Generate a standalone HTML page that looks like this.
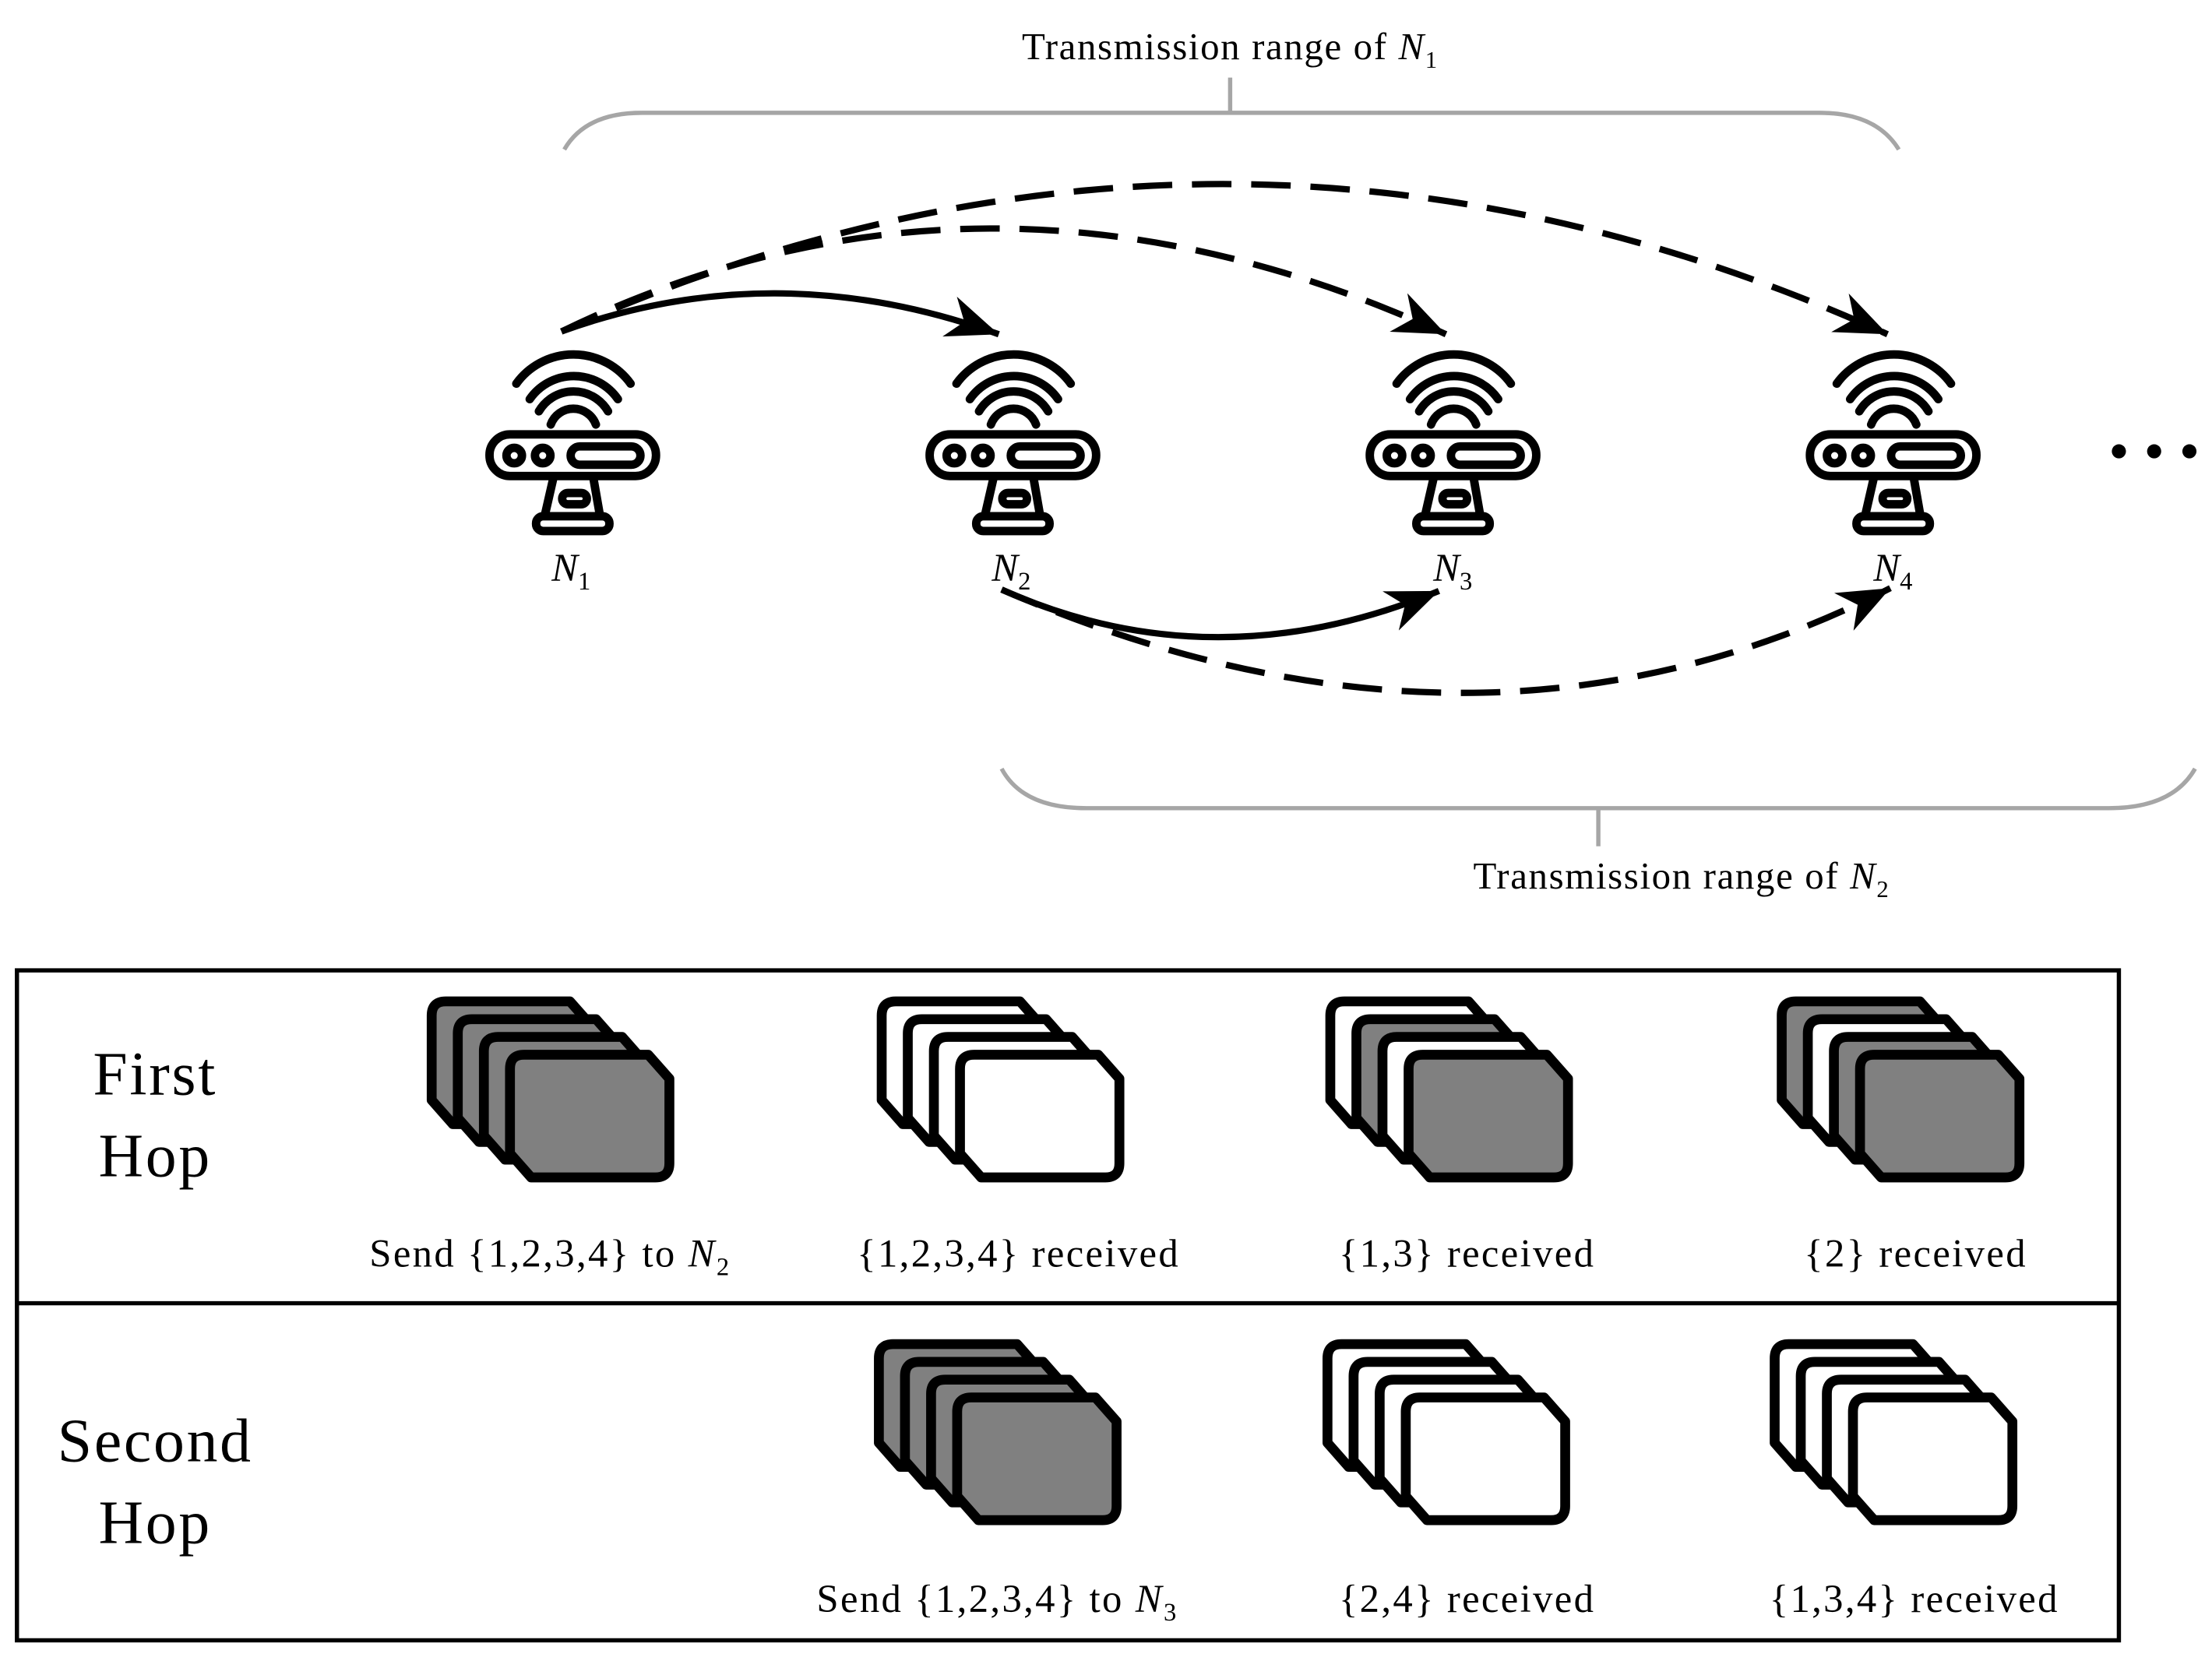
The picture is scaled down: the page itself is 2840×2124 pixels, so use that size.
<!DOCTYPE html>
<html><head><meta charset="utf-8"><style>
html,body{margin:0;padding:0;background:#fff}
svg{display:block}
text{font-family:"Liberation Serif",serif;fill:#000}
</style></head><body>
<svg width="2840" height="2124" viewBox="0 0 1568 1172.7" xmlns="http://www.w3.org/2000/svg">
<defs>
<marker id="ah" viewBox="-38 -16 40 32" refX="0" refY="0" markerWidth="40" markerHeight="32" markerUnits="userSpaceOnUse" orient="auto">
<path d="M0,0 L-37,-15 L-26,0 L-37,15 Z" fill="#000"/>
</marker>
<g id="router" fill="none" stroke="#000" stroke-width="6" stroke-linecap="round">
<path d="M366,272 A50,50 0 0 1 447,272"/>
<path d="M375.5,283 A38,38 0 0 1 438,283"/>
<path d="M382,291.6 A28.4,28.4 0 0 1 431,291.6"/>
<path d="M390.4,301 A17,17 0 0 1 422.4,301"/>
<rect x="347" y="308" width="118" height="29.5" rx="14.5"/>
<circle cx="364.5" cy="323" r="5.5"/>
<circle cx="384.7" cy="323" r="5.5"/>
<rect x="404.5" y="316.5" width="49.5" height="13" rx="6.5"/>
<path d="M392,340 L386.5,364 M420.8,340 L425,364"/>
<rect x="398.5" y="349.5" width="17.5" height="8" rx="4"/>
<rect x="380" y="366" width="52" height="10.5" rx="5"/>
</g>
<path id="card" d="M0,10 Q0,0 10,0 L98,0 L113,17 L113,77 Q113,87 103,87 L15,87 L0,70 Z" stroke="#000" stroke-width="7" stroke-linejoin="round"/>
</defs>

<!-- braces -->
<g fill="none" stroke="#a6a6a6" stroke-width="3">
<path d="M400,106 Q415,80 455,80 L1290,80 Q1330,80 1346,106"/>
<path d="M872,80 L872,55"/>
<path d="M710,545 Q725,573 770,573 L1495,573 Q1540,573 1556,545"/>
<path d="M1133,573 L1133,600"/>
</g>
<text x="872" y="42" font-size="27" letter-spacing="0.9" text-anchor="middle">Transmission range of <tspan font-style="italic">N</tspan><tspan font-size="17" dy="6">1</tspan></text>
<text x="1192" y="630" font-size="27" letter-spacing="0.9" text-anchor="middle">Transmission range of <tspan font-style="italic">N</tspan><tspan font-size="17" dy="6">2</tspan></text>

<!-- arrows -->
<g fill="none" stroke="#000" stroke-width="4.5">
<path d="M398,235 Q870,25 1338,237" stroke-dasharray="28,14" marker-end="url(#ah)"/>
<path d="M398,235 Q700,88 1025,237" stroke-dasharray="28,14" marker-end="url(#ah)"/>
<path d="M398,235 Q550,180 708,237" marker-end="url(#ah)"/>
<path d="M710,418 Q1050,565 1340,417" stroke-dasharray="28,14" marker-end="url(#ah)"/>
<path d="M710,418 Q860,485 1020,419" marker-end="url(#ah)"/>
</g>

<!-- routers -->
<use href="#router"/>
<use href="#router" transform="translate(312,0)"/>
<use href="#router" transform="translate(624,0)"/>
<use href="#router" transform="translate(936,0)"/>
<g font-size="28" font-style="italic">
<text x="391" y="412">N<tspan font-size="18" font-style="normal" dy="6">1</tspan></text>
<text x="703" y="412">N<tspan font-size="18" font-style="normal" dy="6">2</tspan></text>
<text x="1016" y="412">N<tspan font-size="18" font-style="normal" dy="6">3</tspan></text>
<text x="1328" y="412">N<tspan font-size="18" font-style="normal" dy="6">4</tspan></text>
</g>
<g fill="#000"><circle cx="1502" cy="320" r="5"/><circle cx="1527" cy="320" r="5"/><circle cx="1552" cy="320" r="5"/></g>

<!-- table -->
<rect x="12" y="688" width="1490" height="475" fill="none" stroke="#000" stroke-width="3"/>
<line x1="12" y1="924" x2="1502" y2="924" stroke="#000" stroke-width="3"/>
<g font-size="44" letter-spacing="1.5" text-anchor="middle">
<text x="110" y="776">First</text><text x="110" y="834">Hop</text>
<text x="110" y="1036">Second</text><text x="110" y="1094">Hop</text>
</g>

<!-- stacks first hop -->
<g transform="translate(306,710)">
<use href="#card" fill="#808080"/><use href="#card" fill="#808080" transform="translate(18.5,12.6)"/><use href="#card" fill="#808080" transform="translate(37,25.2)"/><use href="#card" fill="#808080" transform="translate(55.5,37.8)"/>
</g>
<g transform="translate(625,710)">
<use href="#card" fill="#fff"/><use href="#card" fill="#fff" transform="translate(18.5,12.6)"/><use href="#card" fill="#fff" transform="translate(37,25.2)"/><use href="#card" fill="#fff" transform="translate(55.5,37.8)"/>
</g>
<g transform="translate(943,710)">
<use href="#card" fill="#fff"/><use href="#card" fill="#808080" transform="translate(18.5,12.6)"/><use href="#card" fill="#fff" transform="translate(37,25.2)"/><use href="#card" fill="#808080" transform="translate(55.5,37.8)"/>
</g>
<g transform="translate(1263,710)">
<use href="#card" fill="#808080"/><use href="#card" fill="#fff" transform="translate(18.5,12.6)"/><use href="#card" fill="#808080" transform="translate(37,25.2)"/><use href="#card" fill="#808080" transform="translate(55.5,37.8)"/>
</g>
<!-- stacks second hop -->
<g transform="translate(623,953)">
<use href="#card" fill="#808080"/><use href="#card" fill="#808080" transform="translate(18.5,12.6)"/><use href="#card" fill="#808080" transform="translate(37,25.2)"/><use href="#card" fill="#808080" transform="translate(55.5,37.8)"/>
</g>
<g transform="translate(941,953)">
<use href="#card" fill="#fff"/><use href="#card" fill="#fff" transform="translate(18.5,12.6)"/><use href="#card" fill="#fff" transform="translate(37,25.2)"/><use href="#card" fill="#fff" transform="translate(55.5,37.8)"/>
</g>
<g transform="translate(1258,953)">
<use href="#card" fill="#fff"/><use href="#card" fill="#fff" transform="translate(18.5,12.6)"/><use href="#card" fill="#fff" transform="translate(37,25.2)"/><use href="#card" fill="#fff" transform="translate(55.5,37.8)"/>
</g>

<g font-size="28" letter-spacing="1.3" text-anchor="middle">
<text x="390" y="898">Send {1,2,3,4} to <tspan font-style="italic">N</tspan><tspan font-size="18" dy="6">2</tspan></text>
<text x="722" y="898">{1,2,3,4} received</text>
<text x="1040" y="898">{1,3} received</text>
<text x="1358" y="898">{2} received</text>
<text x="707" y="1143">Send {1,2,3,4} to <tspan font-style="italic">N</tspan><tspan font-size="18" dy="6">3</tspan></text>
<text x="1040" y="1143">{2,4} received</text>
<text x="1357" y="1143">{1,3,4} received</text>
</g>
</svg>
</body></html>
